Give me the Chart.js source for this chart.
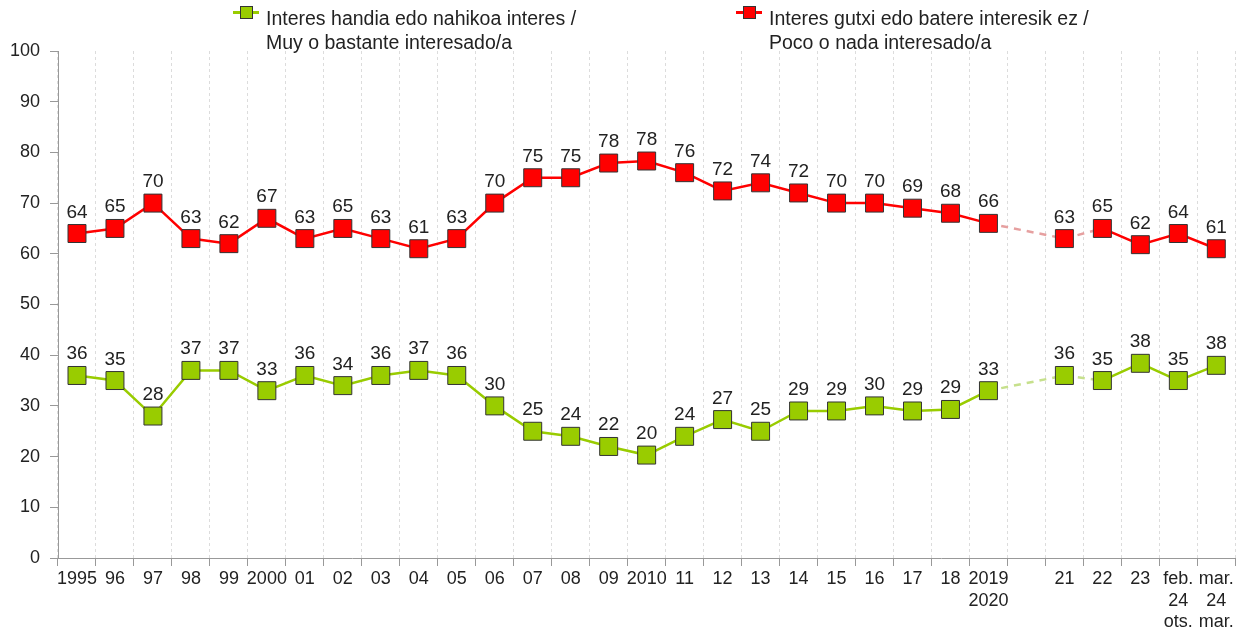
<!DOCTYPE html>
<html>
<head>
<meta charset="utf-8">
<script src="https://cdn.jsdelivr.net/npm/chart.js@4/dist/chart.umd.min.js"></script>
<style>
  html, body { margin: 0; padding: 0; background: #fff; }
  #wrap { position: relative; width: 1249px; height: 633px; font-family: "Liberation Sans", Arial, sans-serif; }
  canvas { position: absolute; left: 0; top: 0; }
  .leg { position: absolute; top: 6px; font-size: 19.5px; line-height: 24px; color: #222; }
  .mk { position: absolute; top: 6px; width: 26px; height: 13px; }
  .mk .ln { position: absolute; left: 0; right: 0; top: 5px; height: 2.5px; }
  .mk .sq { position: absolute; left: 7px; top: 0; width: 11px; height: 11px; border: 1px solid #333; }
</style>
</head>
<body>
<div id="wrap">
  <canvas id="c" width="1249" height="633"></canvas>
  <div class="mk" style="left:233px;"><div class="ln" style="background:#99cc00"></div><div class="sq" style="background:#99cc00"></div></div>
  <div class="leg" style="left:266px;">Interes handia edo nahikoa interes /<br>Muy o bastante interesado/a</div>
  <div class="mk" style="left:736px;"><div class="ln" style="background:#ff0000"></div><div class="sq" style="background:#ff0000"></div></div>
  <div class="leg" style="left:769px;">Interes gutxi edo batere interesik ez /<br>Poco o nada interesado/a</div>
</div>
<script>
const categories = ['1995','96','97','98','99','2000','01','02','03','04','05','06','07','08','09','2010','11','12','13','14','15','16','17','18',['2019','2020'],'','21','22','23',['feb.','24','ots.'],['mar.','24','mar.']];
const interestHigh = [36,35,28,37,37,33,36,34,36,37,36,30,25,24,22,20.3,24,27.3,25,29,29,30,29,29.3,33,null,36,35,38.4,35,38];
const interestLow  = [64,65,70,63,62,67,63,65,63,61,63,70,75,75,77.9,78.3,76,72.4,74,72,70,70,69,68,66,null,63,65,61.8,64,61];
const yTicks = [0,10,20,30,40,50,60,70,80,90,100];
const seriesNames = ['Interes handia edo nahikoa interes / Muy o bastante interesado/a','Interes gutxi edo batere interesik ez / Poco o nada interesado/a'];

const FONT = '"Liberation Sans", Arial, sans-serif';
const dashedSeg = (ctx) => (ctx.p1DataIndex === 26 || ctx.p1DataIndex === 27);

const labelPlugin = {
  id: 'valueLabels',
  afterDatasetsDraw(chart) {
    const ctx = chart.ctx;
    ctx.save();
    ctx.font = '19px ' + FONT;
    ctx.fillStyle = '#222';
    ctx.textAlign = 'center';
    ctx.textBaseline = 'alphabetic';
    chart.data.datasets.forEach((ds, di) => {
      const meta = chart.getDatasetMeta(di);
      meta.data.forEach((pt, i) => {
        const v = ds.data[i];
        if (v === null || v === undefined) return;
        ctx.fillText(String(Math.round(v)), pt.x, pt.y - 16);
      });
    });
    ctx.restore();
  }
};

new Chart(document.getElementById('c'), {
  type: 'line',
  data: {
    labels: categories,
    datasets: [
      {
        label: seriesNames[0],
        data: interestHigh,
        borderColor: '#99cc00',
        backgroundColor: '#99cc00',
        borderWidth: 2.5,
        pointStyle: 'rect',
        pointRadius: 12.7,
        pointHoverRadius: 12.7,
        pointBackgroundColor: '#99cc00',
        pointBorderColor: '#333',
        pointBorderWidth: 1,
        tension: 0,
        spanGaps: true,
        segment: {
          borderDash: c => dashedSeg(c) ? [7, 6] : undefined,
          borderColor: c => dashedSeg(c) ? '#c6e08c' : undefined
        }
      },
      {
        label: seriesNames[1],
        data: interestLow,
        borderColor: '#ff0000',
        backgroundColor: '#ff0000',
        borderWidth: 2.5,
        pointStyle: 'rect',
        pointRadius: 12.7,
        pointHoverRadius: 12.7,
        pointBackgroundColor: '#ff0000',
        pointBorderColor: '#333',
        pointBorderWidth: 1,
        tension: 0,
        spanGaps: true,
        segment: {
          borderDash: c => dashedSeg(c) ? [7, 6] : undefined,
          borderColor: c => dashedSeg(c) ? '#e6a0a0' : undefined
        }
      }
    ]
  },
  options: {
    responsive: false,
    animation: false,
    devicePixelRatio: 1,
    layout: { padding: { top: 51, right: 8, left: 0, bottom: 0 } },
    plugins: { legend: { display: false }, tooltip: { enabled: false } },
    scales: {
      x: {
        type: 'category',
        offset: true,
        grid: {
          display: true,
          offset: true,
          color: '#dcdcdc',
          lineWidth: 1,
          drawOnChartArea: true,
          drawTicks: true,
          tickLength: 8,
          tickColor: '#999'
        },
        border: { display: true, color: '#999', width: 1, dash: [3, 3] },
        ticks: {
          autoSkip: false,
          maxRotation: 0,
          minRotation: 0,
          color: '#222',
          padding: 3,
          font: { family: FONT, size: 18, lineHeight: 1.17 }
        },
        afterFit(scale) { scale.height = 75; }
      },
      y: {
        min: 0,
        max: 100,
        afterBuildTicks(scale) { scale.ticks = yTicks.map(v => ({ value: v })); },
        grid: {
          display: true,
          drawOnChartArea: false,
          drawTicks: true,
          tickLength: 8,
          tickColor: '#999'
        },
        border: { display: true, color: '#999', width: 1 },
        ticks: {
          color: '#222',
          padding: 10,
          font: { family: FONT, size: 18 }
        },
        afterFit(scale) { scale.width = 58; }
      }
    }
  },
  plugins: [labelPlugin]
});
</script>
</body>
</html>
